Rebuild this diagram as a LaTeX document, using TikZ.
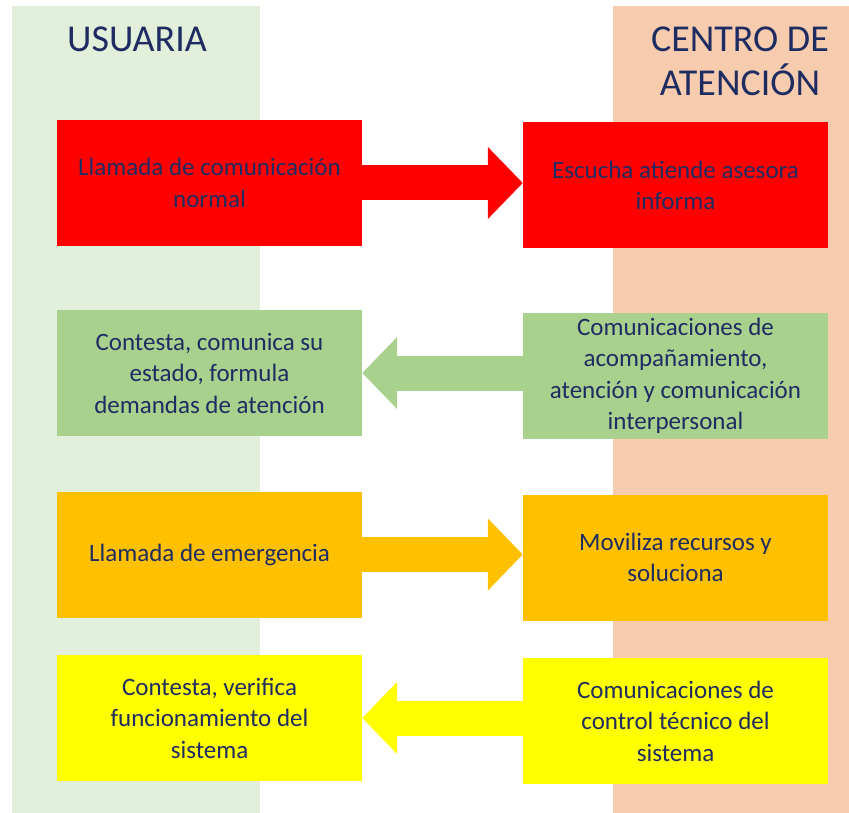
\documentclass[tikz,border=0pt]{standalone}
\usepackage{fontspec}
\setmainfont{Carlito}
\usetikzlibrary{arrows.meta}
\definecolor{navy}{RGB}{30,44,98}
\definecolor{bgL}{RGB}{226,239,218}
\definecolor{bgR}{RGB}{247,203,173}
\definecolor{cRed}{RGB}{255,0,0}
\definecolor{cGreen}{RGB}{169,209,142}
\definecolor{cOrange}{RGB}{255,192,0}
\definecolor{cYellow}{RGB}{255,255,0}
\tikzset{
  box/.style={fill=#1, draw=none, minimum width=305pt, minimum height=126pt,
    inner sep=0pt, align=center, text=navy,
    font=\fontsize{25}{31.5}\selectfont},
  title/.style={text=navy, align=center, font=\fontsize{38}{44}\selectfont, inner sep=0pt},
  fat/.style={draw=#1, line width=35pt,
    -{Triangle[length=35pt,width=70pt,fill=#1]}, shorten >=0pt}
}
\begin{document}
\begin{tikzpicture}[x=1pt,y=-1pt]
\useasboundingbox (0,0) rectangle (849,813);
% column backgrounds
\fill[bgL] (12,6) rectangle (260,813);
\fill[bgR] (613,6) rectangle (849,813);
\node[title] (tu) at (137,39) {USUARIA};
\node[title] (tc) at (740,61) {CENTRO DE\\ATENCIÓN};
% boxes
\node[box=cRed] (l1) at (209.5,183) {Llamada de comunicación\\normal};
\node[box=cRed] (r1) at (675.5,185.5) {Escucha atiende asesora\\informa};
\node[box=cGreen] (l2) at (209.5,373) {Contesta, comunica su\\estado, formula\\demandas de atención};
\node[box=cGreen] (r2) at (675.5,376) {Comunicaciones de\\acompañamiento,\\atención y comunicación\\interpersonal};
\node[box=cOrange] (l3) at (209.5,554.5) {Llamada de emergencia};
\node[box=cOrange] (r3) at (675.5,557.5) {Moviliza recursos y\\soluciona};
\node[box=cYellow] (l4) at (209.5,718) {Contesta, verifica\\funcionamiento del\\sistema};
\node[box=cYellow] (r4) at (675.5,721) {Comunicaciones de\\control técnico del\\sistema};
% arrows
\draw[fat=cRed] (l1.east) -- (l1.east -| r1.west);
\draw[fat=cGreen] (l2.east -| r2.west) -- (l2.east);
\draw[fat=cOrange] (l3.east) -- (l3.east -| r3.west);
\draw[fat=cYellow] (l4.east -| r4.west) -- (l4.east);
\end{tikzpicture}
\end{document}
